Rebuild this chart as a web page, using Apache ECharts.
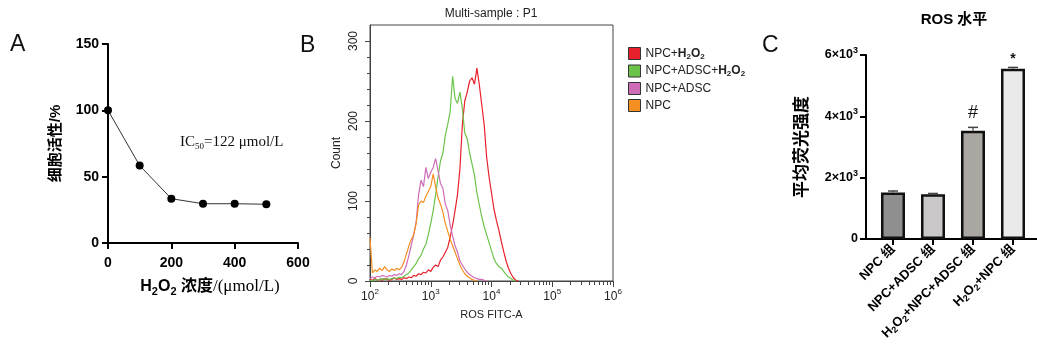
<!DOCTYPE html>
<html><head><meta charset="utf-8">
<script src="https://cdn.jsdelivr.net/npm/echarts@6/dist/echarts.min.js"></script>
<style>html,body{margin:0;padding:0;background:#fff}#c{width:1037px;height:360px}</style>
</head><body><div id="c"></div>
<script>
// ---------- Panel A data ----------
const h2o2Conc = [0, 100, 200, 300, 400, 500];
const viability = [100, 58.4, 33.4, 29.6, 29.6, 29.2];

// ---------- Panel B data (flow cytometry histogram, log10 of FITC channel) ----------
const fitcLog = [2.00,2.04,2.08,2.12,2.16,2.20,2.24,2.28,2.32,2.36,2.40,2.44,2.48,2.52,2.56,2.60,2.64,2.68,2.72,2.76,2.80,2.84,2.88,2.92,2.96,3.00,3.04,3.08,3.12,3.16,3.20,3.24,3.28,3.32,3.36,3.40,3.44,3.48,3.52,3.56,3.60,3.64,3.68,3.72,3.76,3.80,3.84,3.88,3.92,3.96,4.00,4.04,4.08,4.12,4.16,4.20,4.24,4.28,4.32,4.36,4.40,4.44];
const countNpcH2o2 = [2,1,3,1,2,1,3,2,1,2,4,2,3,2,4,3,5,4,7,6,9,8,11,10,14,12,17,20,18,26,30,36,42,55,70,88,108,140,195,225,236,250,254,246,266,245,220,195,155,130,110,90,76,64,50,37,25,16,9,4,1,0];
const countNpcAdscH2o2 = [1,0,2,1,2,3,2,3,2,3,4,3,5,4,6,8,10,14,18,22,28,32,40,46,58,72,88,108,130,150,160,182,196,212,256,228,222,236,216,185,178,160,146,132,110,95,80,68,58,48,38,28,22,18,16,12,8,5,3,1,0,null];
const countNpcAdsc = [3,5,4,6,5,7,6,5,7,6,8,7,9,8,12,20,32,45,58,74,108,126,118,142,128,136,142,153,138,122,116,96,88,70,56,44,36,25,20,15,11,8,6,4,3,2,2,1,0,null,null,null,null,null,null,null,null,null,null,null,null,null];
const countNpc = [54,10,14,12,16,13,18,14,12,15,13,16,14,17,24,34,44,52,58,72,95,100,98,106,112,118,134,118,104,96,86,72,62,52,44,36,28,20,14,9,6,4,2,1,0,null,null,null,null,null,null,null,null,null,null,null,null,null,null,null,null,null];
const histNames = ['NPC+H2O2', 'NPC+ADSC+H2O2', 'NPC+ADSC', 'NPC'];
const histCounts = [countNpcH2o2, countNpcAdscH2o2, countNpcAdsc, countNpc];
const decadeTicks = [2, 3, 4, 5, 6];
const minorMultipliers = [2, 3, 4, 5, 6, 7, 8, 9];
const countTicks = [0, 100, 200, 300];
const countMinorTicks = [20, 40, 60, 80, 120, 140, 160, 180, 220, 240, 260, 280];

// ---------- Panel C data ----------
const rosGroups = ['NPC 组', 'NPC+ADSC 组', 'H₂O₂+NPC+ADSC 组', 'H₂O₂+NPC 组'];
const rosMean = [1520, 1460, 3530, 5550];
const rosErr = [45, 25, 110, 45];
const rosSig = ['', '', '#', '*'];

// ---------- styles ----------
const SANS = '"Liberation Sans", Arial, "Noto Sans CJK SC", sans-serif';
const SERIF = '"Liberation Serif", "Times New Roman", serif';
const histColors = ['#e8202b', '#6cc34a', '#cf6cb8', '#f39021'];
const barColors = ['#8f8f8f', '#c9c7c8', '#aaa6a2', '#eaeaea'];

function subRich(s, m, sb) {
  const parts = s.split('₂');
  return parts.map((p, i) => (p ? '{' + m + '|' + p + '}' : '') + (i < parts.length - 1 ? '{' + sb + '|2}' : '')).join('');
}
const legendRich = {
  'NPC+H2O2': '{n|NPC+}{b|H}{bs|2}{b|O}{bs|2}',
  'NPC+ADSC+H2O2': '{n|NPC+ADSC+}{b|H}{bs|2}{b|O}{bs|2}',
  'NPC+ADSC': '{n|NPC+ADSC}',
  'NPC': '{n|NPC}'
};

const minorLog = [];
decadeTicks.slice(0, -1).forEach(d => minorMultipliers.forEach(k => minorLog.push(d + Math.log10(k))));

const histSeries = histNames.map((name, s) => ({
  name: name, type: 'line', xAxisIndex: 1, yAxisIndex: 1,
  showSymbol: false, symbol: 'none', color: histColors[s],
  lineStyle: { width: 1.2, color: histColors[s] },
  z: 3 + s, animation: false,
  data: fitcLog.map((x, i) => [x, histCounts[s][i]]).filter(p => p[1] !== null)
}));

const option = {
  animation: false,
  backgroundColor: '#fff',
  textStyle: { fontFamily: SANS },
  grid: [
    { left: 108, top: 44, width: 190, height: 199 },
    { left: 370, top: 25, width: 243, height: 256, show: true, borderColor: '#444', borderWidth: 1, backgroundColor: 'transparent' },
    { left: 866, top: 55, width: 171, height: 184 }
  ],
  legend: {
    data: histNames, orient: 'vertical', left: 623, top: 42,
    itemWidth: 12, itemHeight: 12, itemGap: 4, icon: 'rect',
    itemStyle: { borderColor: '#333', borderWidth: 1 },
    selectedMode: false,
    formatter: n => legendRich[n],
    textStyle: {
      color: '#222',
      rich: {
        n: { fontFamily: SANS, fontSize: 12, color: '#222', lineHeight: 14 },
        b: { fontFamily: SANS, fontSize: 12, fontWeight: 'bold', color: '#222', lineHeight: 14 },
        bs: { fontFamily: SANS, fontSize: 8, fontWeight: 'bold', color: '#222', lineHeight: 9, verticalAlign: 'bottom' }
      }
    }
  },
  xAxis: [
    { // A
      gridIndex: 0, type: 'value', min: 0, max: 600, interval: 200,
      axisLine: { show: true, onZero: false, lineStyle: { color: '#000', width: 2 } },
      axisTick: { show: true, length: 6, lineStyle: { color: '#000', width: 2 } },
      axisLabel: { margin: 13, fontSize: 14, fontWeight: 'bold', color: '#000', fontFamily: SANS },
      splitLine: { show: false },
      name: '{h|H}{hs|2}{h|O}{hs|2}{c| 浓度}{t|/(μmol/L)}',
      nameLocation: 'middle', nameGap: 34,
      nameTextStyle: {
        padding: [0, 0, 0, 14],
        rich: {
          h: { fontFamily: SANS, fontSize: 16, fontWeight: 'bold', color: '#000', lineHeight: 20 },
          hs: { fontFamily: SANS, fontSize: 11, fontWeight: 'bold', color: '#000', lineHeight: 11, verticalAlign: 'bottom' },
          c: { fontFamily: SANS, fontSize: 16, fontWeight: 'bold', color: '#000', lineHeight: 20 },
          t: { fontFamily: SERIF, fontSize: 17, color: '#000', lineHeight: 20 }
        }
      }
    },
    { // B major
      gridIndex: 1, type: 'value', min: 2, max: 6, interval: 1, position: 'bottom',
      axisLine: { show: true, onZero: false, lineStyle: { color: '#444', width: 1 } },
      axisTick: { show: true, length: 6, customValues: decadeTicks, lineStyle: { color: '#444', width: 1 } },
      axisLabel: {
        customValues: decadeTicks, margin: 7, color: '#222',
        formatter: v => '{m|10}{s|' + v + '}',
        rich: {
          m: { fontFamily: SANS, fontSize: 12, color: '#222', lineHeight: 17 },
          s: { fontFamily: SANS, fontSize: 8, color: '#222', lineHeight: 9, verticalAlign: 'top' }
        }
      },
      splitLine: { show: false },
      name: 'ROS FITC-A', nameLocation: 'middle', nameGap: 28,
      nameTextStyle: { fontFamily: SANS, fontSize: 11, color: '#222' }
    },
    { // B minor ticks
      gridIndex: 1, type: 'value', min: 2, max: 6, position: 'bottom',
      axisLine: { show: false, onZero: false },
      axisTick: { show: true, length: 4, customValues: minorLog, lineStyle: { color: '#444', width: 1 } },
      axisLabel: { show: false }, splitLine: { show: false }
    },
    { // C
      gridIndex: 2, type: 'value', min: -0.675, max: 3.6,
      axisLine: { show: true, onZero: false, lineStyle: { color: '#000', width: 2 } },
      axisTick: { show: true, length: 6, customValues: [0, 1, 2, 3], lineStyle: { color: '#000', width: 2 } },
      axisLabel: {
        customValues: [0, 1, 2, 3], rotate: 45, margin: 8, color: '#000',
        formatter: v => subRich(rosGroups[Math.round(v)], 'b', 's'),
        rich: {
          b: { fontFamily: SANS, fontSize: 13, fontWeight: 'bold', color: '#000', lineHeight: 16 },
          s: { fontFamily: SANS, fontSize: 9, fontWeight: 'bold', color: '#000', lineHeight: 9, verticalAlign: 'bottom' }
        }
      },
      splitLine: { show: false }
    }
  ],
  yAxis: [
    { // A
      gridIndex: 0, type: 'value', min: 0, max: 150, interval: 50,
      axisLine: { show: true, onZero: false, lineStyle: { color: '#000', width: 2 } },
      axisTick: { show: true, length: 6, lineStyle: { color: '#000', width: 2 } },
      axisLabel: { margin: 9, fontSize: 14, fontWeight: 'bold', color: '#000', fontFamily: SANS },
      splitLine: { show: false },
      name: '细胞活性/%', nameLocation: 'middle', nameGap: 45,
      nameTextStyle: { fontFamily: SANS, fontSize: 15, fontWeight: 'bold', color: '#000' }
    },
    { // B
      gridIndex: 1, type: 'value', min: 0, max: 320, position: 'left',
      axisLine: { show: true, onZero: false, lineStyle: { color: '#444', width: 1 } },
      axisTick: { show: true, length: 5, customValues: countTicks, lineStyle: { color: '#444', width: 1 } },
      axisLabel: { customValues: countTicks, rotate: 90, margin: 10, fontSize: 12, color: '#222', fontFamily: SANS },
      splitLine: { show: false },
      name: 'Count', nameLocation: 'middle', nameGap: 27,
      nameTextStyle: { fontFamily: SANS, fontSize: 12, color: '#222' }
    },
    { // C
      gridIndex: 2, type: 'value', min: 0, max: 6000, interval: 2000,
      axisLine: { show: true, onZero: false, lineStyle: { color: '#000', width: 2 } },
      axisTick: { show: true, length: 6, lineStyle: { color: '#000', width: 2 } },
      axisLabel: {
        margin: 8, color: '#000',
        formatter: v => v === 0 ? '{a|0}' : '{a|' + (v / 1000) + '×10}{p|3}',
        rich: {
          a: { fontFamily: SANS, fontSize: 12.5, fontWeight: 'bold', color: '#000', lineHeight: 18 },
          p: { fontFamily: SANS, fontSize: 9, fontWeight: 'bold', color: '#000', lineHeight: 9, verticalAlign: 'top' }
        }
      },
      splitLine: { show: false },
      name: '平均荧光强度', nameLocation: 'middle', nameGap: 55,
      nameTextStyle: { fontFamily: SANS, fontSize: 17, fontWeight: 'bold', color: '#000' }
    },
    { // B minor ticks
      gridIndex: 1, type: 'value', min: 0, max: 320, position: 'left',
      axisLine: { show: false, onZero: false },
      axisTick: { show: true, length: 3, customValues: countMinorTicks, lineStyle: { color: '#444', width: 1 } },
      axisLabel: { show: false }, splitLine: { show: false }
    }
  ],
  series: [
    {
      type: 'line', xAxisIndex: 0, yAxisIndex: 0,
      data: h2o2Conc.map((x, i) => [x, viability[i]]),
      symbol: 'circle', symbolSize: 8, itemStyle: { color: '#000' },
      lineStyle: { color: '#333', width: 1 }, z: 3
    },
    ...histSeries,
    {
      type: 'bar', xAxisIndex: 3, yAxisIndex: 2, barWidth: 24,
      data: rosMean.map((v, i) => ({ value: [i, v], itemStyle: { color: barColors[i] } })),
      itemStyle: { borderColor: '#111', borderWidth: 2.5 },
      label: {
        show: true, position: 'top', distance: 9, color: '#000',
        formatter: p => rosSig[p.dataIndex] === '#' ? '{g|#}' : (rosSig[p.dataIndex] === '*' ? '{k|*}' : ''),
        rich: {
          g: { fontFamily: SANS, fontSize: 18, color: '#111' },
          k: { fontFamily: SANS, fontSize: 14, fontWeight: 'bold', color: '#111', padding: [0, 0, -6, 0] }
        }
      },
      z: 2
    },
    {
      type: 'custom', xAxisIndex: 3, yAxisIndex: 2, z: 4,
      data: rosMean.map((v, i) => [i, v, v + rosErr[i]]),
      renderItem: function (params, api) {
        const x = api.value(0);
        const top = api.coord([x, api.value(2)]);
        const base = api.coord([x, api.value(1)]);
        const hw = 5;
        return {
          type: 'group', children: [
            { type: 'line', shape: { x1: top[0], y1: top[1], x2: base[0], y2: base[1] }, style: { stroke: '#444', lineWidth: 1.2 } },
            { type: 'line', shape: { x1: top[0] - hw, y1: top[1], x2: top[0] + hw, y2: top[1] }, style: { stroke: '#444', lineWidth: 1.5 } }
          ]
        };
      }
    }
  ],
  graphic: [
    { type: 'text', x: 10, y: 45, style: { text: 'A', font: '23px ' + SANS, fill: '#111', verticalAlign: 'middle' } },
    { type: 'text', x: 300, y: 46, style: { text: 'B', font: '23px ' + SANS, fill: '#111', verticalAlign: 'middle' } },
    { type: 'text', x: 762, y: 46, style: { text: 'C', font: '23px ' + SANS, fill: '#111', verticalAlign: 'middle' } },
    { type: 'text', x: 491, y: 14, style: { text: 'Multi-sample : P1', font: '12px ' + SANS, fill: '#222', align: 'center', verticalAlign: 'middle' } },
    { type: 'text', x: 954, y: 20, style: { text: 'ROS 水平', font: 'bold 15px ' + SANS, fill: '#000', align: 'center', verticalAlign: 'middle' } },
    {
      type: 'text', x: 180, y: 142,
      style: {
        text: '{a|IC}{s|50}{a|=122 μmol/L}', verticalAlign: 'middle',
        rich: {
          a: { fontFamily: SERIF, fontSize: 15, fill: '#111', lineHeight: 18 },
          s: { fontFamily: SERIF, fontSize: 9, fill: '#111', lineHeight: 9, verticalAlign: 'bottom' }
        }
      }
    }
  ]
};
const chart = echarts.init(document.getElementById('c'));
chart.setOption(option);
</script>
</body></html>
